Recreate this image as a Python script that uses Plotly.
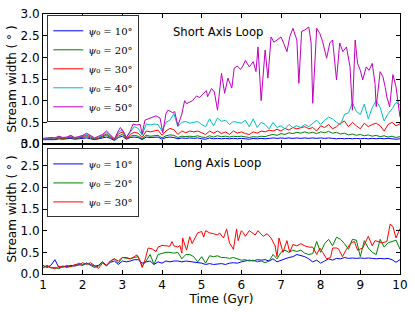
import plotly.graph_objects as go

# Time grid (Gyr) shared by most series
TIME = [round(1.0 + 0.1 * i, 1) for i in range(91)]

# ---------------- Short Axis Loop ----------------
short_10 = [0.10, 0.10, 0.11, 0.10, 0.12, 0.11, 0.12, 0.13, 0.11, 0.12,
            0.13, 0.14, 0.12, 0.10, 0.12, 0.14, 0.16, 0.13, 0.08, 0.15,
            0.18, 0.11, 0.15, 0.16, 0.15, 0.10, 0.16, 0.15, 0.16, 0.16,
            0.11, 0.15, 0.16, 0.15, 0.12, 0.14, 0.13, 0.14, 0.13, 0.14,
            0.12, 0.11, 0.14, 0.12, 0.13, 0.12, 0.13, 0.12, 0.13, 0.12,
            0.13, 0.12, 0.11, 0.13, 0.12, 0.13, 0.12, 0.13, 0.14, 0.13,
            0.14, 0.13, 0.14, 0.13, 0.14, 0.13, 0.14, 0.13, 0.14, 0.13,
            0.14, 0.13, 0.14, 0.13, 0.12, 0.13, 0.12, 0.13, 0.12, 0.13,
            0.12, 0.13, 0.12, 0.13, 0.12, 0.13, 0.12, 0.13, 0.12, 0.11, 0.12]
short_20 = [0.10, 0.11, 0.12, 0.11, 0.14, 0.12, 0.13, 0.15, 0.12, 0.14,
            0.15, 0.17, 0.14, 0.11, 0.13, 0.16, 0.20, 0.15, 0.09, 0.18,
            0.22, 0.12, 0.18, 0.20, 0.18, 0.12, 0.20, 0.18, 0.19, 0.20,
            0.14, 0.19, 0.21, 0.20, 0.15, 0.18, 0.17, 0.18, 0.17, 0.19,
            0.16, 0.15, 0.19, 0.16, 0.19, 0.17, 0.18, 0.16, 0.18, 0.17,
            0.18, 0.16, 0.15, 0.17, 0.16, 0.18, 0.17, 0.20, 0.22, 0.20,
            0.24, 0.22, 0.26, 0.24, 0.27, 0.25, 0.28, 0.25, 0.27, 0.24,
            0.28, 0.26, 0.29, 0.25, 0.27, 0.23, 0.25, 0.21, 0.23, 0.20,
            0.22, 0.19, 0.21, 0.18, 0.20, 0.17, 0.19, 0.16, 0.18, 0.15, 0.17]
short_30 = [0.11, 0.12, 0.13, 0.12, 0.15, 0.13, 0.14, 0.17, 0.13, 0.15,
            0.17, 0.20, 0.16, 0.12, 0.14, 0.18, 0.23, 0.17, 0.10, 0.23,
            0.28, 0.13, 0.22, 0.27, 0.25, 0.15, 0.30, 0.28, 0.30, 0.32,
            0.20, 0.30, 0.36, 0.33, 0.22, 0.30, 0.26, 0.30, 0.28, 0.30,
            0.26, 0.22, 0.30, 0.25, 0.30, 0.24, 0.28, 0.22, 0.30, 0.25,
            0.28, 0.24, 0.22, 0.28, 0.25, 0.30, 0.28, 0.32, 0.30, 0.34,
            0.30, 0.36, 0.32, 0.38, 0.35, 0.38, 0.40, 0.35, 0.38, 0.30,
            0.42, 0.38, 0.45, 0.35, 0.40, 0.48, 0.53, 0.40, 0.50, 0.42,
            0.35, 0.48, 0.40, 0.45, 0.48, 0.42, 0.30, 0.45, 0.50, 0.42, 0.47]
short_40 = [0.12, 0.13, 0.14, 0.13, 0.17, 0.14, 0.15, 0.19, 0.14, 0.16,
            0.19, 0.22, 0.18, 0.13, 0.16, 0.20, 0.27, 0.20, 0.11, 0.27,
            0.33, 0.15, 0.27, 0.40, 0.36, 0.20, 0.46, 0.44, 0.46, 0.45,
            0.30, 0.50, 0.55, 0.70, 0.40, 0.50, 0.52, 0.48, 0.50, 0.52,
            0.45, 0.40, 0.58, 0.42, 0.60, 0.52, 0.55, 0.45, 0.52, 0.50,
            0.48, 0.55, 0.40, 0.58, 0.38, 0.50, 0.45, 0.35, 0.50, 0.38,
            0.42, 0.35, 0.45, 0.38, 0.42, 0.38, 0.45, 0.40, 0.48, 0.55,
            0.45, 0.55, 0.62, 0.58, 0.50, 0.45, 0.68, 0.72, 0.95, 0.75,
            0.68, 0.92, 0.58, 0.84, 1.00, 0.84, 0.53, 0.70, 0.81, 0.96, 0.90]

# psi0 = 50 deg has its own (finer, irregular) time sampling
time_50 = [1.0, 1.1, 1.2, 1.3, 1.4, 1.5, 1.6, 1.7, 1.8, 1.9, 2.0, 2.1, 2.2,
           2.3, 2.4, 2.5, 2.6, 2.7, 2.8, 2.9, 2.95, 3.05, 3.1, 3.2, 3.27,
           3.35, 3.45, 3.5, 3.57, 3.65, 3.75, 3.85, 3.95, 4.02, 4.1, 4.15,
           4.2, 4.27, 4.32, 4.4, 4.5, 4.57, 4.62, 4.7, 4.77, 4.87, 4.95,
           5.03, 5.12, 5.15, 5.25, 5.32, 5.4, 5.5, 5.58, 5.66, 5.76, 5.82,
           5.9, 5.98, 6.05, 6.1, 6.2, 6.3, 6.37, 6.42, 6.5, 6.6, 6.67, 6.75,
           6.82, 6.9, 7.0, 7.08, 7.15, 7.22, 7.3, 7.4, 7.45, 7.52, 7.6, 7.7,
           7.76, 7.8, 7.9, 7.98, 8.05, 8.15, 8.23, 8.3, 8.4, 8.48, 8.56,
           8.65, 8.74, 8.8, 8.87, 8.93, 9.0, 9.06, 9.15, 9.22, 9.3, 9.37,
           9.4, 9.5, 9.57, 9.63, 9.67, 9.74, 9.82, 9.9, 10.0]
short_50 = [0.13, 0.14, 0.15, 0.14, 0.18, 0.15, 0.16, 0.20, 0.15, 0.17, 0.20,
            0.25, 0.20, 0.14, 0.18, 0.22, 0.30, 0.22, 0.12, 0.30, 0.38, 0.25,
            0.15, 0.30, 0.46, 0.44, 0.45, 0.23, 0.55, 0.58, 0.62, 0.65, 0.60,
            0.26, 0.70, 0.78, 0.76, 0.72, 0.75, 0.42, 0.69, 1.00, 0.93, 0.97,
            1.00, 1.11, 1.07, 1.15, 1.23, 1.09, 1.28, 1.20, 0.78, 1.63, 1.17,
            1.52, 1.29, 1.75, 1.80, 1.72, 1.82, 1.93, 1.78, 1.90, 1.67, 2.24,
            1.00, 2.17, 1.52, 2.47, 2.35, 2.40, 2.47, 2.30, 2.13, 2.47, 2.67,
            2.40, 1.40, 2.60, 2.63, 2.70, 2.33, 0.94, 2.67, 2.55, 2.36, 1.98,
            2.33, 2.40, 1.48, 2.33, 2.13, 2.24, 1.78, 0.78, 2.40, 1.86, 1.70,
            1.48, 1.78, 1.70, 1.86, 1.40, 0.86, 1.67, 1.55, 1.30, 1.08, 0.86,
            1.60, 1.32, 0.62]

# ---------------- Long Axis Loop ----------------
long_10 = [0.20, 0.15, 0.20, 0.33, 0.15, 0.18, 0.17, 0.20, 0.18, 0.22,
           0.20, 0.25, 0.22, 0.18, 0.20, 0.28, 0.20, 0.27, 0.30, 0.22,
           0.30, 0.28, 0.30, 0.33, 0.33, 0.25, 0.28, 0.30, 0.22, 0.28,
           0.25, 0.30, 0.28, 0.30, 0.30, 0.28, 0.30, 0.29, 0.28, 0.27,
           0.25, 0.22, 0.24, 0.22, 0.23, 0.24, 0.22, 0.25, 0.26, 0.25,
           0.28, 0.30, 0.32, 0.30, 0.33, 0.32, 0.33, 0.30, 0.35, 0.28,
           0.32, 0.35, 0.38, 0.40, 0.45, 0.42, 0.40, 0.35, 0.28, 0.32,
           0.25, 0.30, 0.35, 0.32, 0.36, 0.35, 0.38, 0.36, 0.37, 0.36,
           0.37, 0.36, 0.37, 0.36, 0.35, 0.36, 0.35, 0.36, 0.33, 0.27, 0.33]
long_20 = [0.15, 0.18, 0.14, 0.15, 0.12, 0.18, 0.15, 0.18, 0.20, 0.25,
           0.22, 0.25, 0.20, 0.15, 0.18, 0.28, 0.18, 0.30, 0.35, 0.25,
           0.38, 0.36, 0.35, 0.38, 0.40, 0.18, 0.30, 0.45, 0.22, 0.45,
           0.48, 0.50, 0.50, 0.48, 0.50, 0.35, 0.45, 0.45, 0.40, 0.28,
           0.40, 0.25, 0.42, 0.40, 0.42, 0.38, 0.38, 0.36, 0.38, 0.35,
           0.32, 0.33, 0.30, 0.32, 0.28, 0.30, 0.26, 0.30, 0.45, 0.35,
           0.50, 0.55, 0.50, 0.55, 0.52, 0.55, 0.48, 0.45, 0.47, 0.75,
           0.50, 0.70, 0.80, 0.65, 0.85, 0.80, 0.70, 0.57, 0.80, 0.78,
           0.40, 0.77, 0.60, 0.50, 0.45, 0.80, 0.62, 0.72, 0.75, 0.78, 0.57]

time_l30 = [1.0, 1.1, 1.2, 1.3, 1.4, 1.5, 1.6, 1.7, 1.8, 1.9, 2.0, 2.1, 2.2,
            2.3, 2.4, 2.5, 2.6, 2.7, 2.8, 2.9, 3.0, 3.1, 3.2, 3.3, 3.37, 3.45,
            3.5, 3.58, 3.65, 3.75, 3.85, 3.9, 4.0, 4.1, 4.2, 4.25, 4.3, 4.4,
            4.45, 4.5, 4.52, 4.62, 4.7, 4.76, 4.82, 4.9, 5.0, 5.05, 5.1, 5.2,
            5.3, 5.4, 5.45, 5.55, 5.63, 5.7, 5.8, 5.88, 5.92, 6.0, 6.05, 6.1,
            6.2, 6.28, 6.35, 6.42, 6.55, 6.65, 6.75, 6.85, 6.9, 6.95, 7.05,
            7.15, 7.22, 7.3, 7.4, 7.5, 7.6, 7.7, 7.8, 7.9, 7.98, 8.05, 8.15,
            8.25, 8.3, 8.4, 8.45, 8.55, 8.65, 8.77, 8.85, 8.93, 9.06, 9.2,
            9.3, 9.37, 9.45, 9.55, 9.67, 9.75, 9.82, 9.9, 10.0]
long_30 = [0.14, 0.20, 0.15, 0.12, 0.18, 0.15, 0.20, 0.16, 0.22, 0.20, 0.26,
           0.22, 0.26, 0.20, 0.13, 0.25, 0.20, 0.30, 0.35, 0.30, 0.38, 0.38,
           0.35, 0.40, 0.44, 0.30, 0.15, 0.35, 0.60, 0.58, 0.52, 0.62, 0.66,
           0.65, 0.64, 0.75, 0.65, 0.62, 0.66, 0.48, 0.83, 0.55, 0.86, 0.70,
           0.80, 0.95, 0.98, 0.85, 1.00, 0.95, 0.93, 0.90, 0.95, 0.83, 1.04,
           0.72, 0.57, 1.04, 0.77, 1.00, 0.95, 0.87, 1.00, 0.95, 0.90, 1.00,
           0.87, 0.93, 0.83, 0.65, 0.40, 0.83, 0.50, 0.77, 0.50, 0.68, 0.65,
           0.70, 0.65, 0.62, 0.62, 0.45, 0.60, 0.50, 0.35, 0.38, 0.60, 0.60,
           0.58, 0.40, 0.57, 0.72, 0.75, 0.55, 0.60, 0.87, 0.65, 0.77, 0.75,
           0.72, 0.75, 1.15, 1.10, 0.83, 1.05]

Y_TICKS = [0.0, 0.5, 1.0, 1.5, 2.0, 2.5, 3.0]
X_TICKS = [1, 2, 3, 4, 5, 6, 7, 8, 9, 10]

BLUE = "rgb(0,0,255)"
GREEN = "rgb(0,128,0)"
RED = "rgb(255,0,0)"
CYAN = "rgb(0,191,191)"
MAGENTA = "rgb(191,0,191)"


def lab(deg):
    return "<i>ψ</i>₀ = %d°" % deg


fig = go.Figure()
top = [(TIME, short_10, BLUE, 10), (TIME, short_20, GREEN, 20),
       (TIME, short_30, RED, 30), (TIME, short_40, CYAN, 40),
       (time_50, short_50, MAGENTA, 50)]
for t, v, c, d in top:
    fig.add_trace(go.Scatter(x=t, y=v, mode="lines", line=dict(color=c, width=1),
                             name=lab(d), xaxis="x2", yaxis="y2", legend="legend"))
bottom = [(TIME, long_10, BLUE, 10), (TIME, long_20, GREEN, 20),
          (time_l30, long_30, RED, 30)]
for t, v, c, d in bottom:
    fig.add_trace(go.Scatter(x=t, y=v, mode="lines", line=dict(color=c, width=1),
                             name=lab(d), xaxis="x", yaxis="y", legend="legend2"))

axis_common = dict(showline=True, linecolor="black", linewidth=1, mirror="ticks",
                   ticks="inside", ticklen=4, tickcolor="black", showgrid=False,
                   zeroline=False, automargin=False,
                   tickfont=dict(size=12, color="black"))
TITLE_FONT = dict(size=12, color="black")
YTITLE = "Stream width ( ° )"
fig.update_layout(
    width=415, height=312,
    margin=dict(l=43, r=15, t=14, b=38, autoexpand=False),
    paper_bgcolor="white", plot_bgcolor="white",
    font=dict(family="DejaVu Sans", size=12, color="black"),
    showlegend=True,
    xaxis=dict(domain=[0, 1], range=[1, 10], tickvals=X_TICKS, anchor="y",
               title=dict(text="Time (Gyr)", standoff=0, font=dict(size=12, color="black")),
               **axis_common),
    yaxis=dict(domain=[0, 0.5], range=[0, 3], tickvals=Y_TICKS, tickformat=".1f",
               anchor="x", title=dict(text=YTITLE, standoff=1, font=TITLE_FONT),
               **axis_common),
    xaxis2=dict(domain=[0, 1], range=[1, 10], tickvals=X_TICKS, showticklabels=False,
                anchor="y2", matches="x", **axis_common),
    yaxis2=dict(domain=[0.5, 1], range=[0, 3], tickvals=Y_TICKS, tickformat=".1f",
                anchor="x2", title=dict(text=YTITLE, standoff=1, font=TITLE_FONT),
                **axis_common),
    legend=dict(x=0.012, y=0.995, xanchor="left", yanchor="top",
                bgcolor="white", bordercolor="#333", borderwidth=1,
                font=dict(family="DejaVu Serif", size=10), tracegroupgap=0,
                itemwidth=30),
    legend2=dict(x=0.012, y=0.483, xanchor="left", yanchor="top",
                 bgcolor="white", bordercolor="#333", borderwidth=1,
                 font=dict(family="DejaVu Serif", size=10), tracegroupgap=0,
                 itemwidth=30),
    annotations=[
        dict(text="Short Axis Loop", xref="x2", yref="y2", x=5.41, y=2.58,
             showarrow=False, font=dict(size=11.6)),
        dict(text="Long Axis Loop", xref="x", yref="y", x=5.4, y=2.57,
             showarrow=False, font=dict(size=11.6)),
    ],
)

fig.write_html("out.html",
               config={"displayModeBar": False},
               post_script="document.body.style.margin='0';"
                           "document.body.style.overflow='hidden';")
